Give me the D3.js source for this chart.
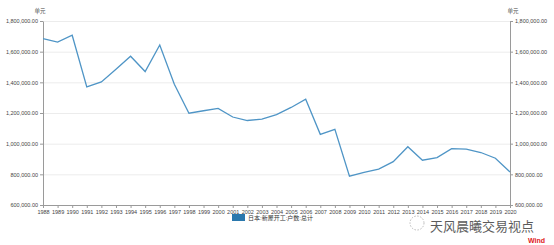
<!DOCTYPE html>
<html><head><meta charset="utf-8">
<script src="https://cdn.jsdelivr.net/npm/d3@7"></script>
<style>body{margin:0;background:#fff}svg{display:block}text{font-family:"Liberation Sans","Noto Sans CJK SC",sans-serif}</style>
</head><body>
<svg id="c" width="554" height="245"></svg>
<script>
const years = [1988,1989,1990,1991,1992,1993,1994,1995,1996,1997,1998,1999,2000,2001,2002,2003,2004,2005,2006,2007,2008,2009,2010,2011,2012,2013,2014,2015,2016,2017,2018,2019,2020];
const starts = [1684644,1662612,1707109,1370126,1402590,1485684,1570252,1470330,1643266,1387014,1198295,1214601,1229843,1173858,1151016,1160083,1189049,1236175,1290391,1060741,1093519,788410,813126,834117,882797,980025,892261,909299,967237,964641,942370,905123,815340];
const yTicks = [600000,800000,1000000,1200000,1400000,1600000,1800000];
const seriesName = "日本:新屋开工:户数:总计";
const unitLabel = "单元";

const svg = d3.select("#c");
const L = 43, R = 510, T = 21, B = 205;
const x = d3.scaleLinear().domain([1988,2020]).range([L,R]);
const y = d3.scaleLinear().domain([600000,1800000]).range([B,T]);
const fmt = d3.format(",.2f");

// grid
svg.append("g").selectAll("line").data(yTicks).join("line")
  .attr("x1",L).attr("x2",R).attr("y1",d=>y(d)+0.5).attr("y2",d=>y(d)+0.5)
  .attr("stroke","#ececec").attr("stroke-width",1);

function styleAxis(g){
  g.select(".domain").attr("stroke","#9a9a9a");
  g.selectAll(".tick line").attr("stroke","#9a9a9a");
  g.selectAll("text").attr("fill","#444").style("font-size","5.5px");
}
svg.append("g").attr("transform",`translate(${L},0)`)
  .call(d3.axisLeft(y).tickValues(yTicks).tickFormat(fmt).tickSize(3).tickSizeOuter(0).tickPadding(2))
  .call(styleAxis);
svg.append("g").attr("transform",`translate(${R},0)`)
  .call(d3.axisRight(y).tickValues(yTicks).tickFormat(fmt).tickSize(3).tickSizeOuter(0).tickPadding(2))
  .call(styleAxis);
svg.append("g").attr("transform",`translate(0,${B})`)
  .call(d3.axisBottom(x).tickValues(years).tickFormat(d3.format("d")).tickSize(3).tickSizeOuter(0).tickPadding(2))
  .call(styleAxis);

svg.append("text").attr("x",L-3).attr("y",13).attr("text-anchor","middle").attr("fill","#444").style("font-size","5.5px").text(unitLabel);
svg.append("text").attr("x",R+3).attr("y",13).attr("text-anchor","middle").attr("fill","#444").style("font-size","5.5px").text(unitLabel);

// line
svg.append("path").datum(years.map((yr,i)=>[yr,starts[i]]))
  .attr("fill","none").attr("stroke","#4f95c6").attr("stroke-width",1.3)
  .attr("d",d3.line().x(d=>x(d[0])).y(d=>y(d[1])));

// legend
svg.append("rect").attr("x",232).attr("y",214).attr("width",13).attr("height",7).attr("fill","#2a78ad");
svg.append("text").attr("x",248).attr("y",220).attr("fill","#333").style("font-size","6px").text(seriesName);

// watermark
const wm = svg.append("g").attr("opacity",0.8);
wm.append("circle").attr("cx",417).attr("cy",223).attr("r",7).attr("fill","none").attr("stroke","#888").attr("stroke-width",0.7).attr("stroke-dasharray","1.5,1.5");
wm.append("text").attr("x",430).attr("y",231).attr("fill","#333").style("font-size","13px").style("font-family","'Noto Sans CJK SC'").text("天风晨曦交易视点");

svg.append("text").attr("x",545).attr("y",243).attr("text-anchor","end").attr("fill","#e0201b").style("font-size","7px").style("font-weight","bold").text("Wind");
</script>
</body></html>
